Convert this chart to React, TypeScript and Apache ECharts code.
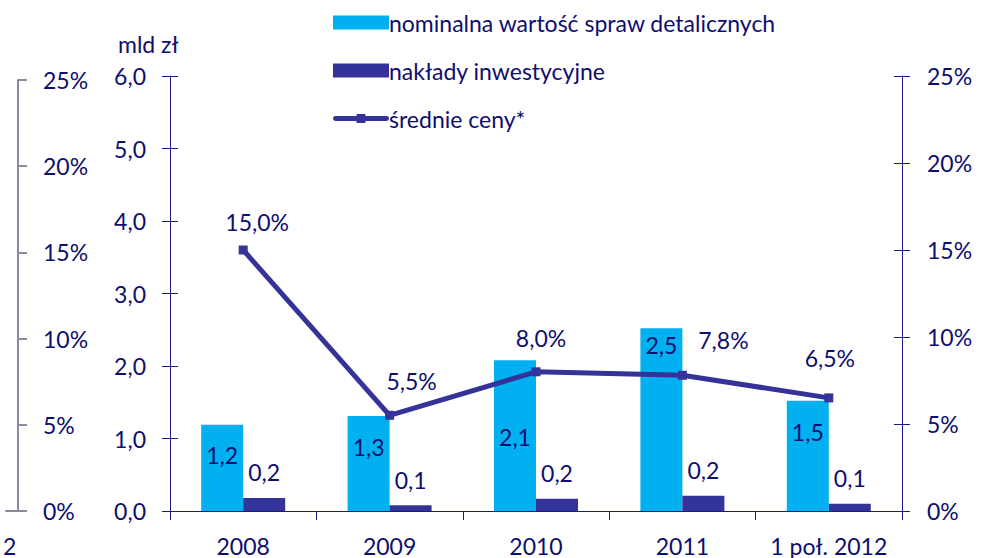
import React, { useEffect, useRef } from "react";
import * as echarts from "echarts";

const categories = ["2008", "2009", "2010", "2011", "1 poł. 2012"];
const nominalValues = [1.19, 1.31, 2.08, 2.52, 1.52];
const investValues = [0.18, 0.08, 0.17, 0.21, 0.1];
const priceValues = [15.0, 5.5, 8.0, 7.8, 6.5];
const nominalLabelOffsets = [30, 31, 77, 17, 31];
const priceLabelOffsets = [[14, -8], [22, -14], [5, -14], [41, -15], [1, -20]];
const strayCategories = ["2"];

const TEXT = "#0e0e6e";
const AXIS = "#1a1a80";
const LIGHT = "#00b0f0";
const DARK = "#333399";
const FONT = "Lato";
const FS = 23;

const LINE_ICON =
  "path://M2,4.5 H23.5 V2.5 H32.5 V4.5 H54 A2.5,2.5 0 0 1 54,9.5 H32.5 V11.5 H23.5 V9.5 H2 A2.5,2.5 0 0 1 2,4.5 Z";

const fmt1 = (v: number) => v.toFixed(1).replace(".", ",");

export default function App() {
  const ref = useRef<HTMLDivElement>(null);
  useEffect(() => {
    const chart = echarts.init(ref.current!, undefined, { renderer: "svg" });
    const option: any = {
      animation: false,
      textStyle: { fontFamily: FONT, color: TEXT },
      grid: [
        { left: 170, right: 84, top: 76, bottom: 47 },
        { left: 0, width: 18, top: 80, bottom: 47 },
      ],
      legend: {
        orient: "vertical",
        left: 328,
        top: 6,
        itemWidth: 56,
        itemHeight: 14,
        itemGap: 25,
        textStyle: { fontFamily: FONT, fontSize: 23, color: TEXT, padding: [0, 0, 0, -5] },
        data: [
          { name: "nominalna wartość spraw detalicznych", icon: "rect" },
          { name: "nakłady inwestycyjne", icon: "rect" },
          { name: "średnie ceny*", icon: LINE_ICON, itemStyle: { color: DARK } },
        ],
      },
      graphic: [
        {
          type: "text",
          left: 118,
          top: 32,
          style: { text: "mld zł", fontFamily: FONT, fontSize: FS, fill: TEXT },
        },
      ],
      xAxis: [
        {
          type: "category",
          gridIndex: 0,
          data: categories,
          axisLine: { lineStyle: { color: AXIS, width: 1 } },
          axisTick: { show: true, length: 9, lineStyle: { color: AXIS } },
          axisLabel: { interval: 0, fontFamily: FONT, fontSize: FS, color: TEXT, margin: 23 },
        },
        {
          type: "category",
          gridIndex: 1,
          data: strayCategories,
          axisLine: { lineStyle: { color: "#8a8a9a", width: 2 } },
          axisTick: { show: false },
          axisLabel: { interval: 0, fontFamily: FONT, fontSize: FS, color: TEXT, margin: 23, align: "left", padding: [0, 0, 0, -9] },
        },
      ],
      yAxis: [
        {
          type: "value",
          gridIndex: 0,
          position: "left",
          min: 0,
          max: 6,
          interval: 1,
          axisLine: { show: true, lineStyle: { color: AXIS } },
          axisTick: { show: true, length: 8, lineStyle: { color: AXIS } },
          axisLabel: { fontFamily: FONT, fontSize: FS, color: TEXT, margin: 24, formatter: (v: number) => fmt1(v) },
          splitLine: { show: false },
        },
        {
          type: "value",
          gridIndex: 0,
          position: "right",
          min: 0,
          max: 25,
          interval: 5,
          axisLine: { show: true, lineStyle: { color: AXIS } },
          axisTick: { show: true, length: 8, lineStyle: { color: AXIS } },
          axisLabel: { fontFamily: FONT, fontSize: FS, color: TEXT, margin: 25, formatter: "{value}%" },
          splitLine: { show: false },
        },
        {
          type: "value",
          gridIndex: 0,
          position: "left",
          min: 0,
          max: 6,
          interval: 1,
          axisLine: { show: false },
          axisTick: { show: true, inside: true, length: 8, lineStyle: { color: AXIS } },
          axisLabel: { show: false },
          splitLine: { show: false },
        },
        {
          type: "value",
          gridIndex: 0,
          position: "right",
          min: 0,
          max: 25,
          interval: 5,
          axisLine: { show: false },
          axisTick: { show: true, inside: true, length: 8, lineStyle: { color: AXIS } },
          axisLabel: { show: false },
          splitLine: { show: false },
        },
        {
          type: "value",
          gridIndex: 1,
          position: "right",
          min: 0,
          max: 25,
          interval: 5,
          axisLine: { show: true, lineStyle: { color: "#8a8a9a", width: 2 } },
          axisTick: { show: true, length: 9, lineStyle: { color: "#8a8a9a", width: 2 } },
          axisLabel: { fontFamily: FONT, fontSize: FS, color: TEXT, margin: 25, formatter: "{value}%" },
          splitLine: { show: false },
        },
      ],
      series: [
        {
          name: "nominalna wartość spraw detalicznych",
          type: "bar",
          xAxisIndex: 0,
          yAxisIndex: 0,
          barWidth: 42,
          barGap: "0%",
          itemStyle: { color: LIGHT },
          data: nominalValues.map((v, i) => ({
            value: v,
            label: {
              show: true,
              position: ["50%", nominalLabelOffsets[i]],
              align: "center",
              verticalAlign: "middle",
              fontFamily: FONT,
              fontSize: FS,
              color: TEXT,
              formatter: () => fmt1(v),
            },
          })),
          z: 2,
        },
        {
          name: "nakłady inwestycyjne",
          type: "bar",
          xAxisIndex: 0,
          yAxisIndex: 0,
          barWidth: 42,
          barGap: "0%",
          itemStyle: { color: DARK },
          label: {
            show: true,
            position: "top",
            distance: 14,
            fontFamily: FONT,
            fontSize: FS,
            color: TEXT,
            formatter: (p: any) => fmt1(p.value),
          },
          data: investValues,
          z: 2,
        },
        {
          name: "średnie ceny*",
          type: "line",
          xAxisIndex: 0,
          yAxisIndex: 1,
          symbol: "rect",
          symbolSize: 9,
          lineStyle: { color: DARK, width: 5 },
          itemStyle: { color: DARK },
          z: 5,
          data: priceValues.map((v, i) => ({
            value: v,
            label: {
              show: true,
              position: "top",
              distance: 4,
              offset: priceLabelOffsets[i],
              fontFamily: FONT,
              fontSize: FS,
              color: TEXT,
              formatter: () => fmt1(v) + "%",
            },
          })),
        },
      ],
    };
    chart.setOption(option);
    return () => chart.dispose();
  }, []);
  return <div ref={ref} style={{ width: 986, height: 558, position: "absolute", left: 0, top: 0, background: "#fff" }} />;
}
